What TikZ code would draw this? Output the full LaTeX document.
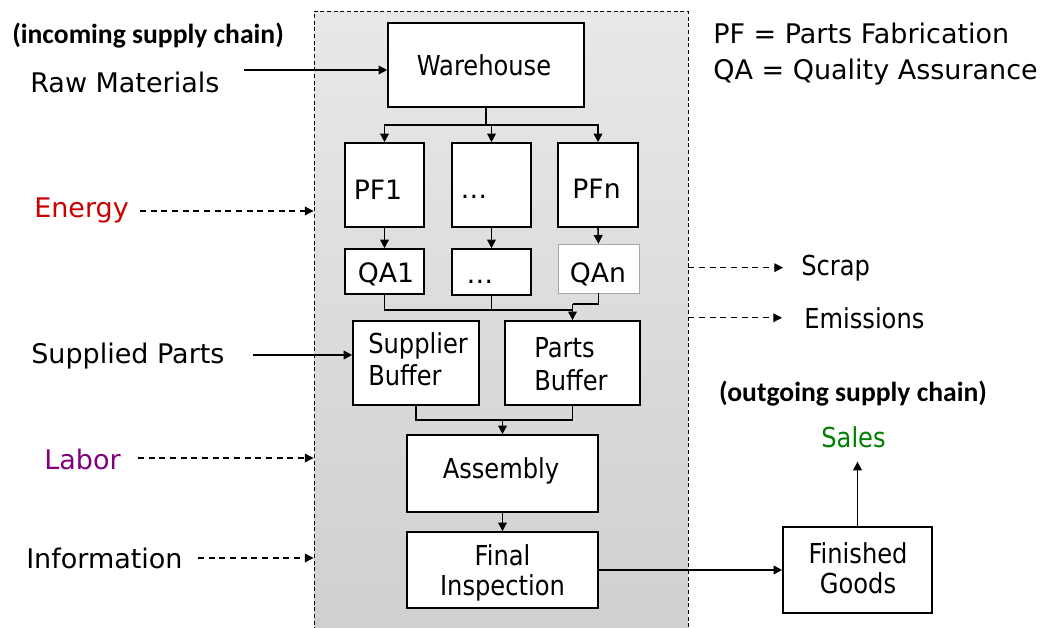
\documentclass[tikz,border=0pt]{standalone}
\usepackage{fontspec}
\setmainfont{DejaVu Sans}
\newfontfamily\tah[FakeStretch=0.88]{DejaVu Sans}
\newfontfamily\calfont{Carlito}
\usetikzlibrary{arrows.meta,fit}
\definecolor{enred}{RGB}{204,0,0}
\definecolor{labpurple}{RGB}{128,0,128}
\definecolor{salesgreen}{RGB}{0,128,0}

\begin{document}
\begin{tikzpicture}[x=0.75pt,y=-0.75pt,
  boxfont/.style={font={\tah\fontsize{20.6pt}{23pt}\selectfont}},
  box/.style={draw, line width=1.2pt, fill=white, inner sep=0pt},
  btxt/.style={inner sep=0pt, boxfont, anchor=base},
  btxtl/.style={inner sep=0pt, boxfont, anchor=base west},
  ptxt/.style={inner sep=0pt, anchor=base, font={\fontsize{20pt}{23pt}\selectfont}},
  plantbox/.style={draw, line width=0.7pt, dash pattern=on 3pt off 2pt,
    top color=black!9, bottom color=black!19, inner sep=0pt},
  lbl/.style={inner sep=0pt, font={\fontsize{20.25pt}{24pt}\selectfont}},
  rlbl/.style={inner sep=0pt, boxfont},
  hdr/.style={inner sep=0pt, font={\calfont\bfseries\fontsize{20.7pt}{24pt}\selectfont}},
  tip/.style={-{Triangle[length=6.5pt,width=6.5pt]}},
  arr/.style={line width=1.2pt, tip},
  flow/.style={line width=1.2pt},
  darr/.style={line width=0.9pt, dash pattern=on 4.5pt off 3.5pt, tip}]

\useasboundingbox (0,0) rectangle (1042,628);

% plant boundary (runs off the lower edge)
\node[plantbox, fit={(314,11) (688,660)}] (plant) {};

% process boxes
\node[box, fit={(388,23) (584,107)}] (wh) {};
\node[box, fit={(345,143) (424,227)}] (pf1) {};
\node[box, fit={(452,143) (531,227)}] (pfd) {};
\node[box, fit={(558,143) (638,227)}] (pfn) {};
\node[box, fit={(345,249) (424,294)}] (qa1) {};
\node[box, fit={(452,249) (531,295)}] (qad) {};
\node[box, draw=black!35, line width=0.4pt, fit={(558,244) (639,293)}] (qan) {};
\node[box, fit={(353,321) (479,405)}] (sb) {};
\node[box, fit={(505,321) (640,405)}] (pb) {};
\node[box, fit={(407,435) (598,512)}] (asm) {};
\node[box, fit={(407,532) (598,608)}] (fi) {};
\node[box, fit={(783,527) (932,613)}] (fg) {};

% box texts
\node[btxt] (whT) at (484,75) {Warehouse};
\node[ptxt] (pf1T) at (378,199) {PF1};
\node[ptxt] (pfdT) at (474,198) {…};
\node[ptxt] (pfnT) at (596.5,198) {PFn};
\node[ptxt] (qa1T) at (386,282) {QA1};
\node[ptxt] (qadT) at (480,283) {…};
\node[ptxt] (qanT) at (598,282) {QAn};
\node[btxtl] (sbT1) at (368,353) {Supplier};
\node[btxtl] (sbT2) at (368,385) {Buffer};
\node[btxtl] (pbT1) at (534,357) {Parts};
\node[btxtl] (pbT2) at (534,390) {Buffer};
\node[btxt] (asmT) at (501,478) {Assembly};
\node[btxt] (fiT1) at (502.5,565) {Final};
\node[btxt] (fiT2) at (502.5,595) {Inspection};
\node[btxt] (fgT1) at (858,563) {Finished};
\node[btxt] (fgT2) at (858,593) {Goods};

% labels
\node[hdr, anchor=base west] (inc) at (12,43) {(incoming supply chain)};
\node[lbl, anchor=base west] (raw) at (30,92) {Raw Materials};
\node[lbl, anchor=base west, text=enred] (energy) at (34,217) {Energy};
\node[lbl, anchor=base west] (sup) at (31,363) {Supplied Parts};
\node[lbl, anchor=base west, text=labpurple] (labor) at (44,469) {Labor};
\node[lbl, anchor=base west] (info) at (26,568) {Information};
\node[lbl, anchor=base west] (kpf) at (713,43) {PF = Parts Fabrication};
\node[lbl, anchor=base west] (kqa) at (713,79) {QA = Quality Assurance};
\node[rlbl, anchor=base west] (scrap) at (801,275) {Scrap};
\node[rlbl, anchor=base west] (emis) at (804,328) {Emissions};
\node[hdr, anchor=base] (out) at (853,401) {(outgoing supply chain)};
\node[rlbl, anchor=base, text=salesgreen] (sales) at (853.5,447) {Sales};

% arrow tails of the inputs
\coordinate (rawtail) at (244,70);
\coordinate (entail) at (140,211);
\coordinate (suptail) at (253,355);
\coordinate (labtail) at (138,458);
\coordinate (inftail) at (198,558);

% inputs
\draw[arr] (rawtail) -- (rawtail -| wh.west);
\draw[darr] (entail) -- (entail -| plant.west);
\draw[arr] (suptail) -- (suptail -| sb.west);
\draw[darr] (labtail) -- (labtail -| plant.west);
\draw[darr] (inftail) -- (inftail -| plant.west);

% outputs
\draw[darr] (scrap.west -| plant.east) -- ([xshift=-13.5pt]scrap.west);
\draw[darr] (emis.west -| plant.east) -- ([xshift=-16.5pt]emis.west);

% warehouse to parts fabrication
\coordinate (split) at (wh.south |- 0,125);
\draw[flow] (wh.south) -- (split);
\draw[arr] (split) -| (pf1.north);
\draw[arr] (split) -| (pfd.north);
\draw[arr] (split) -| (pfn.north);

% fabrication to quality assurance
\draw[arr] (pf1.south) -- (qa1.north);
\draw[arr] (pfd.south) -- (qad.north);
\draw[arr] (pfn.south) -- (qan.north);

% quality assurance to parts buffer
\coordinate (m1) at (pb.north |- 0,310);
\coordinate (m2) at (pb.north |- 0,304);
\draw[flow] (qa1.south) |- (m1);
\draw[flow] (qad.south) |- (m1);
\draw[flow] (qan.south) |- (m2);
\draw[arr] (m2) -- (pb.north);

% buffers to assembly
\coordinate (j2) at (asm.north |- 0,420);
\draw[flow] (sb.south) |- (j2);
\draw[flow] (pb.south) |- (j2);
\draw[arr] (j2) -- (asm.north);

% assembly to inspection to finished goods to sales
\draw[arr] (asm.south) -- (fi.north);
\draw[arr] (fi.east) -- (fg.west);
\draw[arr, shorten >=10.5pt] (fg.north) -- (fg.north |- sales.south);
\end{tikzpicture}
\end{document}
